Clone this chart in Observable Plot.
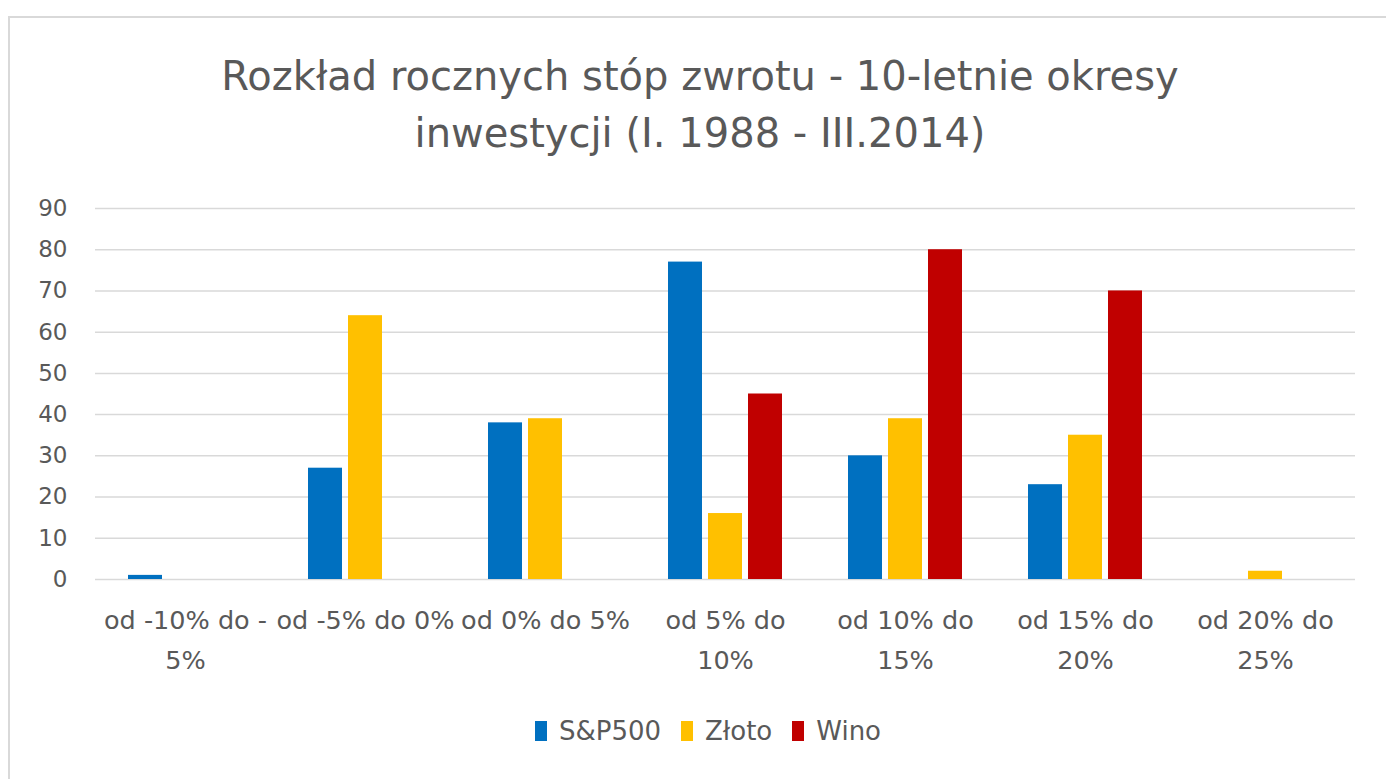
<!DOCTYPE html>
<html>
<head>
<meta charset="utf-8">
<script src="https://cdn.jsdelivr.net/npm/d3@7"></script>
<script src="https://cdn.jsdelivr.net/npm/@observablehq/plot@0.6"></script>
<style>
  html, body { margin: 0; padding: 0; background: #fff; overflow: hidden; }
  body { width: 1386px; height: 779px; position: relative; font-family: "DejaVu Sans", sans-serif; color: #595959; }
  #frame { position: absolute; left: 8px; top: 16px; width: 1400px; height: 800px; border: 2px solid #d9d9d9; box-sizing: border-box; }
  #title { position: absolute; left: 0; top: 48px; width: 1400px; text-align: center; font-size: 40px; line-height: 57px; color: #595959; }
  #chart { position: absolute; left: 0; top: 190px; }
  #legend { position: absolute; left: 0; top: 716px; width: 1416px; display: flex; justify-content: center; align-items: center; font-size: 26px; color: #595959; }
  .item { display: flex; align-items: center; margin: 0 10px; }
  .sw { width: 12px; height: 20px; margin-right: 12px; }
</style>
</head>
<body>
<div id="frame"></div>
<div id="title"></div>
<div id="chart"></div>
<div id="legend"></div>
<script>
const titleLines = ["Rozkład rocznych stóp zwrotu - 10-letnie okresy", "inwestycji (I. 1988 - III.2014)"];
const categories = ["od -10% do -5%", "od -5% do 0%", "od 0% do 5%", "od 5% do 10%", "od 10% do 15%", "od 15% do 20%", "od 20% do 25%"];
const categoryLabels = ["od -10% do -\n5%", "od -5% do 0%", "od 0% do 5%", "od 5% do\n10%", "od 10% do\n15%", "od 15% do\n20%", "od 20% do\n25%"];
const series = ["S&P500", "Złoto", "Wino"];
const sp500 = [1, 27, 38, 77, 30, 23, 0];
const zloto = [0, 64, 39, 16, 39, 35, 2];
const wino = [0, 0, 0, 45, 80, 70, 0];
const colors = ["#0070C0", "#FFC000", "#C00000"];
const yTicks = [0, 10, 20, 30, 40, 50, 60, 70, 80, 90];

const seriesValues = [sp500, zloto, wino];
const data = [];
categories.forEach((c, i) => {
  series.forEach((s, j) => {
    data.push({category: c, series: s, value: seriesValues[j][i]});
  });
});
const labelOf = new Map(categories.map((c, i) => [c, categoryLabels[i]]));

document.getElementById("title").innerHTML = titleLines.map(t => `<div>${t}</div>`).join("");

const chart = Plot.plot({
  width: 1386,
  height: 500,
  marginTop: 18,
  marginBottom: 111,
  marginLeft: 93,
  marginRight: 30,
  style: {fontFamily: "DejaVu Sans, sans-serif", fontSize: "23px", color: "#595959", background: "transparent"},
  fx: {domain: categories, padding: 0, label: null, axis: null},
  x: {domain: series, axis: null, paddingInner: 0.15, paddingOuter: 0.8},
  y: {domain: [0, 90], label: null, axis: null},
  color: {domain: series, range: colors},
  marks: [
    Plot.gridY(yTicks, {stroke: "#d9d9d9", strokeOpacity: 1, strokeWidth: 1.5}),
    Plot.barY(data.filter(d => d.value > 0), {fx: "category", x: "series", y: "value", fill: "series"}),
    Plot.axisY(yTicks, {tickSize: 0, tickPadding: 28, fill: "#595959", fontSize: 23, label: null}),
    Plot.axisFx({anchor: "bottom", tickSize: 0, tickPadding: 21, tickFormat: d => labelOf.get(d), lineHeight: 1.58, fill: "#595959", fontSize: 25.5, label: null})
  ]
});
document.getElementById("chart").appendChild(chart);

const legend = document.getElementById("legend");
series.forEach((s, i) => {
  const item = document.createElement("div");
  item.className = "item";
  item.innerHTML = `<div class="sw" style="background:${colors[i]}"></div><span>${s.replace("&", "&amp;")}</span>`;
  legend.appendChild(item);
});
</script>
</body>
</html>
